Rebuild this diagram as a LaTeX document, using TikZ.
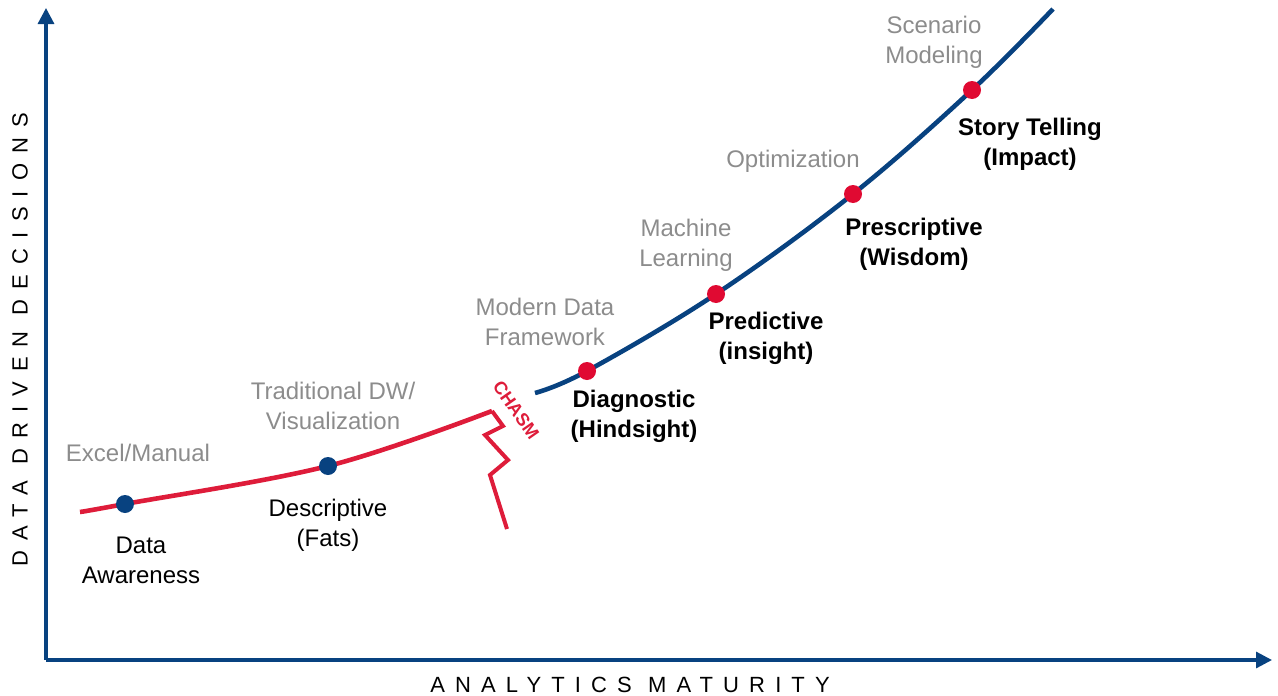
\documentclass[tikz,border=0pt]{standalone}
\usepackage{fontspec}
\setmainfont{Liberation Sans}
\newfontfamily\spacedfont[LetterSpace=46]{Liberation Sans}
\usetikzlibrary{arrows.meta}

\definecolor{axisblue}{RGB}{8,66,128}
\definecolor{chasmred}{RGB}{222,28,58}
\definecolor{dotred}{RGB}{224,10,50}
\definecolor{labelgray}{RGB}{140,140,140}

\begin{document}
\begin{tikzpicture}[x=1pt,y=-1pt,
    font=\fontsize{24}{30}\selectfont,
    tool/.style={text=labelgray,align=center},
    stage/.style={text=black,align=center},
    bstage/.style={text=black,align=center,font=\fontsize{24}{30}\selectfont\bfseries}]

    \useasboundingbox (0,0) rectangle (1278,696);

    % axes
    \coordinate (o) at (46,660);
    \coordinate (ytop) at (46,8);
    \coordinate (xend) at (1272,660);
    \draw[axisblue,line width=3.2pt,-{Triangle[length=16pt,width=16pt]}] (o) -- (ytop);
    \draw[axisblue,line width=3.2pt,-{Triangle[length=16pt,width=16pt]}] (o) -- (xend);

    \node[font=\fontsize{22}{24}\selectfont\spacedfont] (xlab) at (630,685) {ANALYTICS MATURITY};
    \node[font=\fontsize{22}{24}\selectfont\spacedfont,rotate=90] (ylab) at (20,340) {DATA DRIVEN DECISIONS};

    % points on the curves
    \coordinate (r0) at (80,512);
    \coordinate (d1) at (125,504);
    \coordinate (d2) at (328,466);
    \coordinate (r1) at (492,411);

    \coordinate (b0) at (535,393);
    \coordinate (d3) at (587,371);
    \coordinate (d4) at (716,294);
    \coordinate (d5) at (853,194);
    \coordinate (d6) at (972,90);
    \coordinate (b1) at (1053,9);

    % red curve and the chasm
    \draw[chasmred,line width=4.6pt] plot[smooth,tension=0.6] coordinates {(r0) (d1) (d2) (r1)};
    \coordinate (z1) at (503,426);
    \coordinate (z2) at (485,435);
    \coordinate (z3) at (508,460);
    \coordinate (z4) at (490,475);
    \coordinate (z5) at (507,529);
    \draw[chasmred,line width=4pt,line join=miter] (r1) -- (z1) -- (z2) -- (z3) -- (z4) -- (z5);
    \node[text=chasmred,font=\fontsize{18}{20}\selectfont\bfseries,rotate=-55,inner sep=0pt] (chasm) at (516,410) {CHASM};

    % blue curve
    \draw[axisblue,line width=4.6pt] plot[smooth,tension=0.6] coordinates {(b0) (d3) (d4) (d5) (d6) (b1)};

    \begin{scope}[every node/.style={circle,inner sep=0pt,minimum size=18pt}]
        \node[fill=axisblue] (p1) at (d1) {};
        \node[fill=axisblue] (p2) at (d2) {};
        \node[fill=dotred] (p3) at (d3) {};
        \node[fill=dotred] (p4) at (d4) {};
        \node[fill=dotred] (p5) at (d5) {};
        \node[fill=dotred] (p6) at (d6) {};
    \end{scope}

    % labels
    \node[tool] (excel) at (138,453) {Excel/Manual};
    \node[stage] (aware) at (141,560) {Data\\Awareness};
    \node[tool] (dw) at (333,406) {Traditional DW/\\Visualization};
    \node[stage] (descr) at (328,525) {Descriptive\\(Fats)};
    \node[tool] (mdf) at (545,322) {Modern Data\\Framework};
    \node[bstage] (diag) at (634,416) {Diagnostic\\(Hindsight)};
    \node[tool] (ml) at (686,245) {Machine\\Learning};
    \node[bstage] (pred) at (766,338) {Predictive\\(insight)};
    \node[tool] (opt) at (793,161) {Optimization};
    \node[bstage] (presc) at (914,244) {Prescriptive\\(Wisdom)};
    \node[tool] (scen) at (934,42) {Scenario\\Modeling};
    \node[bstage] (story) at (1030,144) {Story Telling\\(Impact)};

\end{tikzpicture}
\end{document}
